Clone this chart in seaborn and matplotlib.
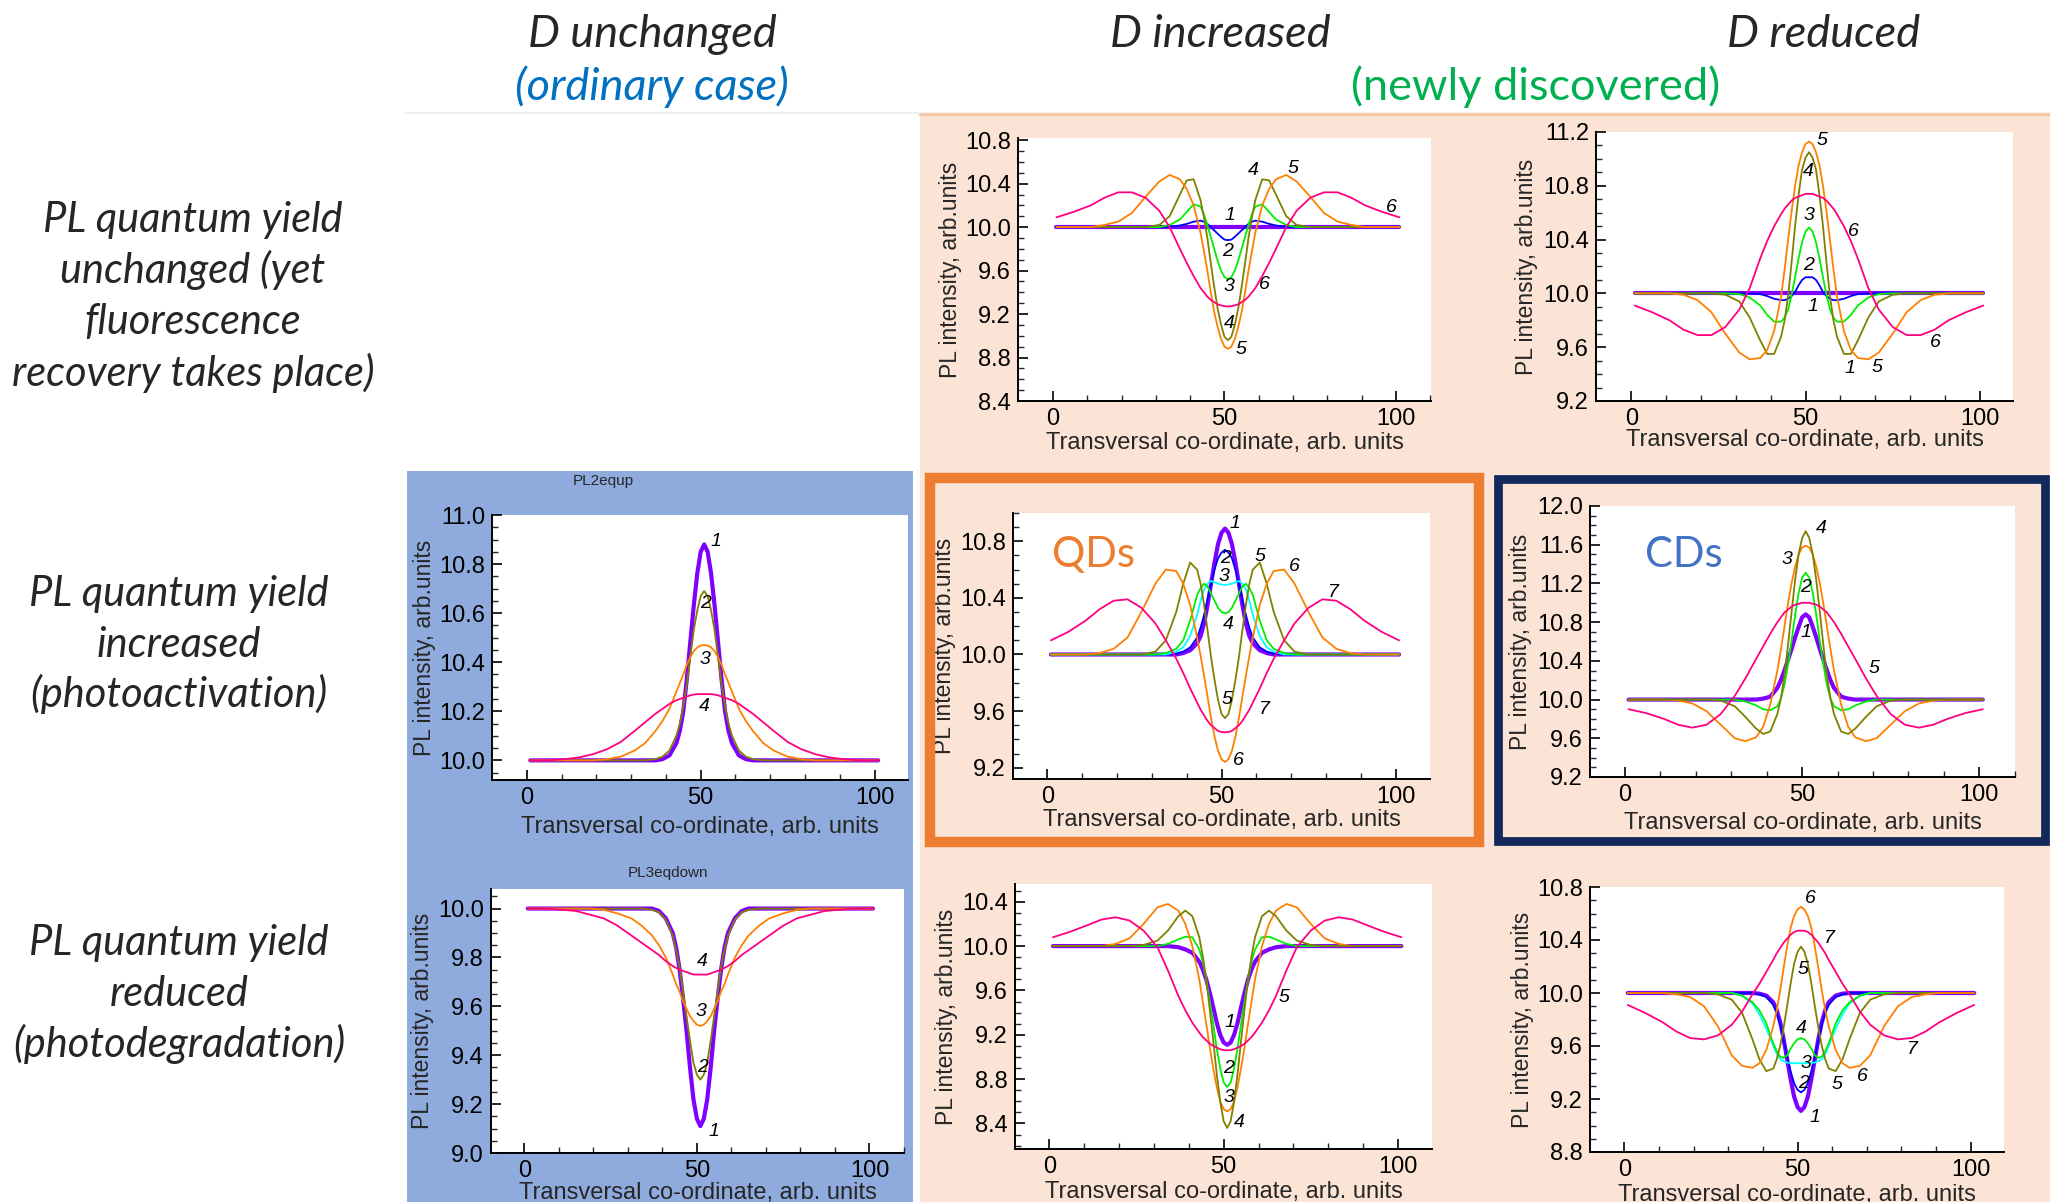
import matplotlib
matplotlib.use("Agg")
import matplotlib.pyplot as plt
import seaborn as sns
from matplotlib.patches import Rectangle
from matplotlib.ticker import MultipleLocator, FixedLocator, FormatStrFormatter

# ---- data: half profiles (curves are symmetric around x = 51) ----
OFFSETS = [0, 1, 2, 3, 4, 5, 6, 7, 8, 10, 12, 14, 17, 20, 24, 28, 32, 36, 40, 45, 50]
CENTER = 51

# row 1: QY unchanged, D increased
qy_same_d_up = [
    [10.0, 10.0, 10.0, 10.0, 10.0, 10.0, 10.0, 10.0, 10.0, 10.0, 10.0, 10.0, 10.0, 10.0, 10.0, 10.0, 10.0, 10.0, 10.0, 10.0, 10.0],
    [9.88, 9.885, 9.91, 9.94, 9.97, 10.0, 10.03, 10.05, 10.06, 10.05, 10.03, 10.015, 10.0, 10.0, 10.0, 10.0, 10.0, 10.0, 10.0, 10.0, 10.0],
    [9.52, 9.54, 9.6, 9.69, 9.8, 9.91, 10.02, 10.12, 10.19, 10.21, 10.14, 10.07, 10.02, 10.0, 10.0, 10.0, 10.0, 10.0, 10.0, 10.0, 10.0],
    [8.96, 8.99, 9.1, 9.25, 9.45, 9.67, 9.9, 10.09, 10.25, 10.44, 10.43, 10.3, 10.1, 10.02, 10.0, 10.0, 10.0, 10.0, 10.0, 10.0, 10.0],
    [8.88, 8.9, 8.97, 9.08, 9.22, 9.4, 9.6, 9.78, 9.95, 10.2, 10.35, 10.44, 10.48, 10.42, 10.28, 10.13, 10.05, 10.02, 10.0, 10.0, 10.0],
    [9.27, 9.272, 9.28, 9.29, 9.31, 9.33, 9.36, 9.4, 9.44, 9.55, 9.67, 9.8, 10.0, 10.15, 10.27, 10.32, 10.32, 10.27, 10.2, 10.14, 10.09],
]
# row 1: QY unchanged, D reduced
qy_same_d_down = [
    [10.0, 10.0, 10.0, 10.0, 10.0, 10.0, 10.0, 10.0, 10.0, 10.0, 10.0, 10.0, 10.0, 10.0, 10.0, 10.0, 10.0, 10.0, 10.0, 10.0, 10.0],
    [10.12, 10.12, 10.1, 10.06, 10.01, 9.98, 9.96, 9.95, 9.95, 9.96, 9.98, 9.995, 10.0, 10.0, 10.0, 10.0, 10.0, 10.0, 10.0, 10.0, 10.0],
    [10.49, 10.46, 10.38, 10.26, 10.12, 9.99, 9.88, 9.82, 9.79, 9.79, 9.84, 9.91, 9.97, 9.995, 10.0, 10.0, 10.0, 10.0, 10.0, 10.0, 10.0],
    [11.05, 11.01, 10.92, 10.73, 10.5, 10.23, 9.98, 9.8, 9.68, 9.55, 9.55, 9.65, 9.82, 9.94, 9.99, 10.0, 10.0, 10.0, 10.0, 10.0, 10.0],
    [11.13, 11.11, 11.05, 10.95, 10.8, 10.61, 10.4, 10.18, 9.98, 9.72, 9.58, 9.52, 9.51, 9.56, 9.7, 9.86, 9.95, 9.99, 10.0, 10.0, 10.0],
    [10.74, 10.74, 10.73, 10.72, 10.71, 10.69, 10.66, 10.63, 10.59, 10.5, 10.39, 10.26, 10.04, 9.88, 9.75, 9.69, 9.69, 9.73, 9.8, 9.86, 9.91],
]
# row 2: QY increased
qy_up_d_same = [
    [10.88, 10.85, 10.76, 10.63, 10.48, 10.33, 10.2, 10.12, 10.07, 10.02, 10.005, 10.0, 10.0, 10.0, 10.0, 10.0, 10.0, 10.0, 10.0, 10.0, 10.0],
    [10.69, 10.67, 10.61, 10.53, 10.42, 10.31, 10.22, 10.15, 10.1, 10.04, 10.015, 10.005, 10.0, 10.0, 10.0, 10.0, 10.0, 10.0, 10.0, 10.0, 10.0],
    [10.47, 10.468, 10.46, 10.445, 10.42, 10.39, 10.35, 10.315, 10.28, 10.21, 10.16, 10.12, 10.07, 10.04, 10.015, 10.005, 10.0, 10.0, 10.0, 10.0, 10.0],
    [10.27, 10.27, 10.27, 10.268, 10.265, 10.26, 10.255, 10.25, 10.245, 10.23, 10.21, 10.19, 10.155, 10.12, 10.075, 10.045, 10.025, 10.012, 10.005, 10.0, 10.0],
]
qy_up_d_up = [
    [10.89, 10.86, 10.78, 10.65, 10.5, 10.35, 10.22, 10.13, 10.08, 10.03, 10.01, 10.0, 10.0, 10.0, 10.0, 10.0, 10.0, 10.0, 10.0, 10.0, 10.0],
    [10.74, 10.72, 10.68, 10.6, 10.5, 10.39, 10.28, 10.19, 10.12, 10.05, 10.02, 10.005, 10.0, 10.0, 10.0, 10.0, 10.0, 10.0, 10.0, 10.0, 10.0],
    [10.49, 10.495, 10.5, 10.51, 10.52, 10.5, 10.46, 10.38, 10.28, 10.13, 10.05, 10.02, 10.0, 10.0, 10.0, 10.0, 10.0, 10.0, 10.0, 10.0, 10.0],
    [10.29, 10.3, 10.33, 10.38, 10.43, 10.48, 10.5, 10.47, 10.42, 10.24, 10.1, 10.04, 10.01, 10.0, 10.0, 10.0, 10.0, 10.0, 10.0, 10.0, 10.0],
    [9.55, 9.58, 9.68, 9.82, 9.98, 10.17, 10.35, 10.5, 10.6, 10.65, 10.5, 10.3, 10.1, 10.02, 10.0, 10.0, 10.0, 10.0, 10.0, 10.0, 10.0],
    [9.24, 9.26, 9.32, 9.42, 9.55, 9.7, 9.85, 9.99, 10.12, 10.35, 10.5, 10.59, 10.6, 10.5, 10.3, 10.12, 10.04, 10.01, 10.0, 10.0, 10.0],
    [9.45, 9.452, 9.46, 9.48, 9.5, 9.53, 9.57, 9.61, 9.66, 9.76, 9.87, 9.97, 10.1, 10.22, 10.33, 10.39, 10.38, 10.32, 10.24, 10.16, 10.1],
]
qy_up_d_down = [
    [10.88, 10.85, 10.75, 10.64, 10.52, 10.41, 10.3, 10.2, 10.12, 10.03, 10.01, 10.0, 10.0, 10.0, 10.0, 10.0, 10.0, 10.0, 10.0, 10.0, 10.0],
    [11.31, 11.26, 11.1, 10.87, 10.6, 10.36, 10.15, 10.01, 9.93, 9.89, 9.9, 9.94, 9.98, 10.0, 10.0, 10.0, 10.0, 10.0, 10.0, 10.0, 10.0],
    [11.59, 11.57, 11.5, 11.37, 11.2, 10.99, 10.75, 10.52, 10.3, 9.95, 9.72, 9.61, 9.57, 9.6, 9.74, 9.88, 9.96, 9.99, 10.0, 10.0, 10.0],
    [11.74, 11.67, 11.5, 11.23, 10.9, 10.56, 10.25, 10.01, 9.85, 9.67, 9.645, 9.7, 9.82, 9.93, 9.99, 10.0, 10.0, 10.0, 10.0, 10.0, 10.0],
    [11.0, 11.0, 10.99, 10.98, 10.96, 10.93, 10.9, 10.85, 10.8, 10.68, 10.55, 10.42, 10.22, 10.04, 9.85, 9.74, 9.71, 9.74, 9.8, 9.86, 9.9],
]
# row 3: QY reduced
qy_down_d_same = [
    [9.11, 9.14, 9.22, 9.35, 9.5, 9.63, 9.75, 9.84, 9.9, 9.96, 9.99, 10.0, 10.0, 10.0, 10.0, 10.0, 10.0, 10.0, 10.0, 10.0, 10.0],
    [9.3, 9.32, 9.37, 9.46, 9.56, 9.66, 9.76, 9.83, 9.89, 9.955, 9.985, 9.995, 10.0, 10.0, 10.0, 10.0, 10.0, 10.0, 10.0, 10.0, 10.0],
    [9.52, 9.525, 9.54, 9.56, 9.59, 9.62, 9.66, 9.69, 9.73, 9.8, 9.85, 9.89, 9.93, 9.96, 9.98, 9.995, 10.0, 10.0, 10.0, 10.0, 10.0],
    [9.73, 9.73, 9.73, 9.735, 9.74, 9.745, 9.75, 9.757, 9.765, 9.785, 9.81, 9.83, 9.86, 9.89, 9.93, 9.96, 9.975, 9.99, 9.995, 10.0, 10.0],
]
qy_down_d_up = [
    [9.11, 9.13, 9.2, 9.31, 9.45, 9.58, 9.7, 9.79, 9.86, 9.94, 9.97, 9.99, 10.0, 10.0, 10.0, 10.0, 10.0, 10.0, 10.0, 10.0, 10.0],
    [8.73, 8.77, 8.9, 9.08, 9.3, 9.5, 9.7, 9.86, 9.97, 10.08, 10.085, 10.06, 10.02, 10.0, 10.0, 10.0, 10.0, 10.0, 10.0, 10.0, 10.0],
    [8.51, 8.53, 8.6, 8.73, 8.9, 9.09, 9.3, 9.5, 9.7, 10.0, 10.2, 10.32, 10.38, 10.35, 10.2, 10.07, 10.02, 10.0, 10.0, 10.0, 10.0],
    [8.36, 8.42, 8.6, 8.85, 9.15, 9.43, 9.7, 9.91, 10.08, 10.27, 10.32, 10.27, 10.14, 10.05, 10.01, 10.0, 10.0, 10.0, 10.0, 10.0, 10.0],
    [9.06, 9.062, 9.07, 9.085, 9.1, 9.12, 9.15, 9.18, 9.22, 9.31, 9.42, 9.55, 9.78, 9.99, 10.14, 10.23, 10.26, 10.24, 10.19, 10.13, 10.08],
]
qy_down_d_down = [
    [9.11, 9.14, 9.22, 9.35, 9.5, 9.65, 9.78, 9.87, 9.93, 9.98, 9.995, 10.0, 10.0, 10.0, 10.0, 10.0, 10.0, 10.0, 10.0, 10.0, 10.0],
    [9.25, 9.27, 9.32, 9.41, 9.52, 9.64, 9.76, 9.85, 9.91, 9.97, 9.99, 10.0, 10.0, 10.0, 10.0, 10.0, 10.0, 10.0, 10.0, 10.0, 10.0],
    [9.47, 9.47, 9.47, 9.472, 9.475, 9.485, 9.5, 9.54, 9.6, 9.73, 9.84, 9.92, 9.98, 10.0, 10.0, 10.0, 10.0, 10.0, 10.0, 10.0, 10.0],
    [9.66, 9.65, 9.62, 9.58, 9.53, 9.51, 9.52, 9.56, 9.62, 9.77, 9.87, 9.93, 9.98, 10.0, 10.0, 10.0, 10.0, 10.0, 10.0, 10.0, 10.0],
    [10.35, 10.31, 10.22, 10.07, 9.9, 9.74, 9.6, 9.5, 9.43, 9.41, 9.5, 9.65, 9.85, 9.95, 9.99, 10.0, 10.0, 10.0, 10.0, 10.0, 10.0],
    [10.65, 10.63, 10.58, 10.49, 10.35, 10.19, 10.02, 9.87, 9.75, 9.57, 9.47, 9.435, 9.45, 9.53, 9.75, 9.9, 9.97, 9.99, 10.0, 10.0, 10.0],
    [10.47, 10.47, 10.46, 10.44, 10.41, 10.38, 10.34, 10.3, 10.25, 10.16, 10.07, 9.99, 9.86, 9.76, 9.68, 9.65, 9.66, 9.71, 9.78, 9.85, 9.91],
]

# curve number labels (x, y, text)
labels_r1c2 = [(51.6, 10.105, "1"), (50.8, 9.78, "2"), (51.3, 9.45, "3"), (51.3, 9.11, "4"), (54.7, 8.87, "5"),
               (61.7, 9.47, "6"), (58.3, 10.52, "4"), (70.0, 10.54, "5"), (98.7, 10.18, "6")]
labels_r1c3 = [(54.6, 11.14, "5"), (50.7, 10.905, "4"), (50.9, 10.58, "3"), (51.0, 10.205, "2"), (52.1, 9.905, "1"),
               (63.6, 10.46, "6"), (87.3, 9.635, "6"), (62.6, 9.44, "1"), (70.6, 9.45, "5")]
labels_r2c1 = [(54.4, 10.89, "1"), (51.5, 10.64, "2"), (51.2, 10.41, "3"), (51.0, 10.22, "4")]
labels_r2c2 = [(53.9, 10.925, "1"), (51.3, 10.68, "2"), (50.6, 10.55, "3"), (52.1, 10.21, "4"), (61.1, 10.69, "5"),
               (70.9, 10.62, "6"), (82.1, 10.435, "7"), (51.5, 9.68, "5"), (62.2, 9.61, "7"), (54.9, 9.25, "6")]
labels_r2c3 = [(55.5, 11.77, "4"), (45.6, 11.45, "3"), (50.9, 11.16, "2"), (51.2, 10.69, "1"), (70.4, 10.325, "5")]
labels_r3c1 = [(51.7, 9.785, "4"), (51.2, 9.58, "3"), (51.7, 9.35, "2"), (54.8, 9.09, "1")]
labels_r3c2 = [(51.8, 9.31, "1"), (51.3, 8.90, "2"), (51.5, 8.63, "3"), (54.4, 8.41, "4"), (67.3, 9.535, "5")]
labels_r3c3 = [(53.6, 10.71, "6"), (59.2, 10.41, "7"), (51.5, 10.18, "5"), (51.0, 9.735, "4"), (52.5, 9.47, "3"),
               (51.7, 9.32, "2"), (55.0, 9.06, "1"), (61.5, 9.31, "5"), (68.8, 9.37, "6"), (83.2, 9.57, "7")]

col_titles = ["D unchanged", "D increased", "D reduced"]
row_titles = [
    ["PL quantum yield", "unchanged (yet", "fluorescence", "recovery takes place)"],
    ["PL quantum yield", "increased", "(photoactivation)"],
    ["PL quantum yield", "reduced", "(photodegradation)"],
]

# ---- styling ----
PURPLE, BLUE, GREEN, CYAN = "#8000FF", "#0000FF", "#00EE00", "#00FFFF"
OLIVE, ORANGE, PINK = "#808000", "#FF8000", "#FF0080"
W, H = 2050, 1202


def place(left, top, right, bottom):
    return [left / W, 1 - bottom / H, (right - left) / W, (bottom - top) / H]


panels = [
    # data, colours, box(px), xlim, ylim, major, minor, labels, xlabel offset, ylabel offset
    (qy_same_d_up, [PURPLE, BLUE, GREEN, OLIVE, ORANGE, PINK], (1018, 138, 1431, 401), (-10.2, 110.2), (8.4, 10.82), 0.4, 0.1, labels_r1c2, 42, 67),
    (qy_same_d_down, [PURPLE, BLUE, GREEN, OLIVE, ORANGE, PINK], (1596, 132, 2013, 401), (-10.1, 109.5), (9.2, 11.2), 0.4, 0.1, labels_r1c3, 39, 69),
    (qy_up_d_same, [PURPLE, OLIVE, ORANGE, PINK], (492, 515, 908, 780), (-10.0, 109.6), (9.92, 11.0), 0.2, 0.05, labels_r2c1, 47, 67),
    (qy_up_d_up, [PURPLE, BLUE, CYAN, GREEN, OLIVE, ORANGE, PINK], (1013, 513, 1430, 779), (-9.9, 109.9), (9.12, 11.0), 0.4, 0.1, labels_r2c2, 41, 69),
    (qy_up_d_down, [PURPLE, GREEN, ORANGE, OLIVE, PINK], (1590, 506, 2015, 777), (-9.9, 110.1), (9.2, 12.0), 0.4, 0.1, labels_r2c3, 46, 70),
    (qy_down_d_same, [PURPLE, OLIVE, ORANGE, PINK], (491, 889, 904, 1153), (-9.65, 110.0), (9.0, 10.08), 0.2, 0.05, labels_r3c1, 40, 68),
    (qy_down_d_up, [PURPLE, GREEN, ORANGE, OLIVE, PINK], (1015, 884, 1432, 1149), (-9.9, 109.8), (8.17, 10.56), 0.4, 0.1, labels_r3c2, 43, 68),
    (qy_down_d_down, [PURPLE, BLUE, CYAN, GREEN, OLIVE, ORANGE, PINK], (1590, 887, 2004, 1152), (-9.9, 109.6), (8.8, 10.8), 0.4, 0.1, labels_r3c3, 43, 68),
]

sns.set_theme(style="ticks")
plt.rcParams["font.family"] = ["Liberation Sans", "DejaVu Sans"]

fig = plt.figure(figsize=(W / 100, H / 100), dpi=100)
fig.patch.set_facecolor("white")

# background blocks and frames
fig.add_artist(Rectangle((920 / W, 0), (W - 920) / W, 1 - 113 / H, transform=fig.transFigure,
                         facecolor="#FBE3D5", edgecolor="none", zorder=0))
fig.add_artist(plt.Line2D([920 / W, 1], [1 - 114 / H] * 2, color="#F6C9AC", lw=2.5, zorder=0.5))
fig.add_artist(plt.Line2D([405 / W, 920 / W], [1 - 113 / H] * 2, color="#EEEEEE", lw=1.5, zorder=0.5))
fig.add_artist(Rectangle((407 / W, 0), (913 - 407) / W, 1 - 471 / H, transform=fig.transFigure,
                         facecolor="#8FAADC", edgecolor="none", zorder=0))
fig.add_artist(Rectangle((930 / W, 1 - 842 / H), (1479 - 930) / W, (842 - 478) / H, transform=fig.transFigure,
                         facecolor="none", edgecolor="#ED7D31", lw=7.5, zorder=0.6))
fig.add_artist(Rectangle((1498 / W, 1 - 841 / H), (2045 - 1498) / W, (841 - 479) / H, transform=fig.transFigure,
                         facecolor="none", edgecolor="#13295C", lw=6.3, zorder=0.6))

for vals_list, colors, box, xlim, ylim, major, minor, labels, xoff, yoff in panels:
    ax = fig.add_axes(place(*box))
    ax.set_facecolor("white")
    xs = [CENTER - d for d in OFFSETS[:0:-1]] + [CENTER + d for d in OFFSETS]
    for vals, color in zip(vals_list, colors):
        ys = list(vals[:0:-1]) + list(vals)
        lw = 3.0 if color == PURPLE else 1.3
        sns.lineplot(x=xs, y=ys, ax=ax, color=color, linewidth=lw, estimator=None, sort=False)
    for lx, ly, s in labels:
        ax.text(lx, ly, s, ha="center", va="center", style="italic", fontsize=14, color="black")

    ax.set_xlim(*xlim)
    ax.set_ylim(*ylim)
    ax.xaxis.set_major_locator(FixedLocator([0, 50, 100]))
    ax.xaxis.set_minor_locator(FixedLocator([10, 20, 30, 40, 60, 70, 80, 90, 110]))
    ax.yaxis.set_major_locator(MultipleLocator(major))
    ax.yaxis.set_minor_locator(MultipleLocator(minor))
    ax.yaxis.set_major_formatter(FormatStrFormatter("%.1f"))
    ax.tick_params(which="major", direction="in", length=7, width=1.2, labelsize=17, pad=5, colors="black")
    ax.tick_params(which="minor", direction="in", length=4, width=1.0)
    for side in ["top", "right"]:
        ax.spines[side].set_visible(False)
    for side in ["left", "bottom"]:
        ax.spines[side].set_color("black")
        ax.spines[side].set_linewidth(1.4)

    w_px, h_px = box[2] - box[0], box[3] - box[1]
    ax.set_xlabel("Transversal co-ordinate, arb. units", fontsize=17, va="center")
    ax.xaxis.set_label_coords(0.5, -xoff / h_px)
    ax.set_ylabel("PL intensity, arb.units", fontsize=16.5, va="center")
    ax.yaxis.set_label_coords(-yoff / w_px, 0.5)
    ax.grid(False)

# small panel titles
fig.text(603 / W, 1 - 481 / H, "PL2equp", ha="center", va="center", fontsize=11)
fig.text(668 / W, 1 - 873 / H, "PL3eqdown", ha="center", va="center", fontsize=11)

# QDs / CDs
fig.text(1052 / W, 1 - 567 / H, "QDs", ha="left", va="baseline", fontsize=30, color="#ED7D31", family="Lato")
fig.text(1645 / W, 1 - 567 / H, "CDs", ha="left", va="baseline", fontsize=30, color="#4472C4", family="Lato")

# column headers
for cx, title in zip([652, 1220, 1824], col_titles):
    fig.text(cx / W, 1 - 47 / H, title, ha="center", va="baseline", fontsize=32.5, style="italic", family="Lato")
fig.text(652 / W, 1 - 100 / H, "(ordinary case)", ha="center", va="baseline", fontsize=32.5,
         style="italic", family="Lato", color="#0070C0")
fig.text(1536 / W, 1 - 100 / H, "(newly discovered)", ha="center", va="baseline", fontsize=32.5,
         family="Lato", color="#00B050")

# row headers
row_layout = [(193, [232, 283, 334, 386]), (179, [606, 657, 707]), (179, [955, 1006, 1057])]
for (cx, baselines), lines in zip(row_layout, row_titles):
    for by, line in zip(baselines, lines):
        fig.text(cx / W, 1 - by / H, line, ha="center", va="baseline", fontsize=30, style="italic", family="Lato")

fig.savefig("out.png", dpi=100, facecolor=fig.get_facecolor())
